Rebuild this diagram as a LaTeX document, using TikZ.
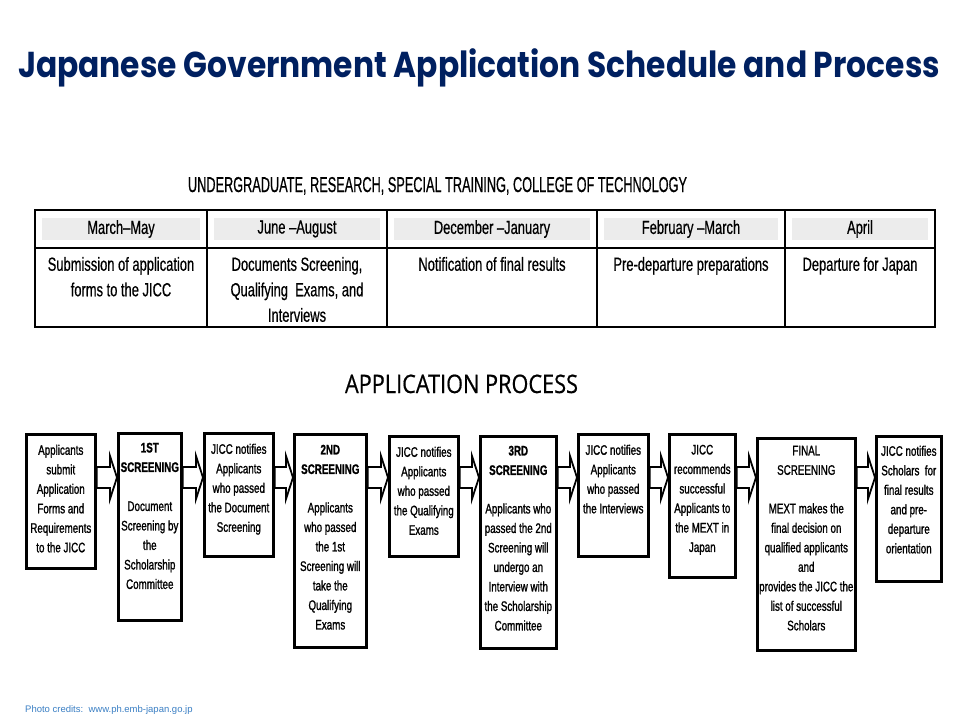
\documentclass[tikz,border=0pt]{standalone}
\usepackage{fontspec}
\usepackage{graphicx}
\usetikzlibrary{calc}
\setmainfont{Liberation Sans}
\newfontfamily\boxfont[FakeStretch=0.71,FakeBold=1.2]{Liberation Sans}
\newfontfamily\tabfont[FakeStretch=0.68,FakeBold=0.5]{Liberation Sans}
\newfontfamily\headfont[FakeBold=0.8]{Liberation Sans}
\newfontfamily\titlefont{Poppins}
\newfontfamily\procfont[FakeBold=0.6]{Open Sans}
\definecolor{navy}{HTML}{002060}
\definecolor{creditblue}{HTML}{3A7FC4}
\definecolor{hdrgray}{HTML}{ECECEC}
\tikzset{
  pbox/.style={draw, line width=2.6pt, inner sep=0pt, fill=white, anchor=north west,
    font=\boxfont\fontsize{13.8}{19.5}\selectfont},
  hcell/.style={draw, line width=2.4pt, inner sep=0pt, outer sep=0pt, anchor=north west,
    minimum height=38pt, font=\tabfont\fontsize{19}{25.5}\selectfont},
  bcell/.style={draw, line width=2.4pt, inner sep=0pt, outer sep=0pt, anchor=north west,
    font=\tabfont\fontsize{19}{25.5}\selectfont},
  flowarr/.style={draw=black, fill=white, line width=1.8pt, line join=miter}
}
% box: name, x, y, w, h, pad, text
\newcommand\pbx[7]{\node[pbox] (#1) at (#2,#3)
  {\parbox[c][\dimexpr#5pt-3pt\relax][t]{\dimexpr#4pt-3pt\relax}{\vspace*{#6pt}\centering #7\par}};}
% body cell: name, x, w, text
\newcommand\bcl[4]{\node[bcell, minimum width=#3pt] (#1) at (#2,248)
  {\parbox[c][79pt][t]{\dimexpr#3pt-8pt\relax}{\vspace*{9pt}\centering #4\par}};}
\newcommand\flow[2]{\draw[flowarr] let \p1=(#1.east), \p2=(#2.west) in
  (\x1,-467pt) -- ({\x2-7pt},-467pt) -- ({\x2-7pt},-456pt) -- (\x2,-477.5pt)
  -- ({\x2-7pt},-499pt) -- ({\x2-7pt},-488pt) -- (\x1,-488pt) -- cycle;}
\begin{document}
\begin{tikzpicture}[x=1pt,y=-1pt]
\useasboundingbox (0,0) rectangle (960,720);
\fill[white] (0,0) rectangle (960,720);
% title
\node[anchor=base, text=navy, inner sep=0pt] (title) at (479,77)
  {\resizebox{922pt}{\height}{\titlefont\bfseries\fontsize{36}{40}\selectfont Japanese Government Application Schedule and Process}};
% table heading
\node[anchor=base, inner sep=0pt] (thead) at (437.5,192)
  {\resizebox{499pt}{\height}{\headfont\fontsize{21.5}{24}\selectfont UNDERGRADUATE, RESEARCH, SPECIAL TRAINING, COLLEGE OF TECHNOLOGY}};
% header gray bands
\foreach \a/\b in {35/207,207/387,387/597,597/785,785/935}
  \fill[hdrgray] (\a+7,218) rectangle (\b-7,240);
% header cells
\node[hcell, minimum width=172pt] (h1) at (35,210) {March–May};
\node[hcell, minimum width=180pt] (h2) at (207,210) {June –August};
\node[hcell, minimum width=210pt] (h3) at (387,210) {December –January};
\node[hcell, minimum width=188pt] (h4) at (597,210) {February –March};
\node[hcell, minimum width=150pt] (h5) at (785,210) {April};
% body cells
\bcl{c1}{35}{172}{Submission of application\\forms to the JICC}
\bcl{c2}{207}{180}{Documents Screening,\\Qualifying\ \ Exams, and\\Interviews}
\bcl{c3}{387}{210}{Notification of final results}
\bcl{c4}{597}{188}{Pre-departure preparations}
\bcl{c5}{785}{150}{Departure for Japan}
% application process heading
\node[anchor=base, inner sep=0pt] (aphead) at (461.5,393)
  {\resizebox{233pt}{\height}{\procfont\fontsize{25.5}{28}\selectfont APPLICATION PROCESS}};
% process boxes
\pbx{b1}{25}{433}{72}{137}{10.5}{Applicants\\submit\\Application\\Forms and\\Requirements\\to the JICC}
\pbx{b2}{117}{432}{66}{190}{9.5}{\textbf{1ST}\\\textbf{SCREENING}\\[19.5pt]Document\\Screening by\\the\\Scholarship\\Committee}
\pbx{b3}{203}{432}{72}{126}{10.5}{JICC notifies\\Applicants\\who passed\\the Document\\Screening}
\pbx{b4}{293}{433}{75}{216}{10.5}{\textbf{2ND}\\\textbf{SCREENING}\\[19pt]Applicants\\who passed\\the 1st\\Screening will\\take the\\Qualifying\\Exams}
\pbx{b5}{388}{435}{72}{123}{10.5}{JICC notifies\\Applicants\\who passed\\the Qualifying\\Exams}
\pbx{b6}{479}{435}{79}{215}{9.5}{\textbf{3RD}\\\textbf{SCREENING}\\[19pt]Applicants who\\passed the 2nd\\Screening will\\undergo an\\Interview with\\the Scholarship\\Committee}
\pbx{b7}{577}{433}{73}{125}{10.5}{JICC notifies\\Applicants\\who passed\\the Interviews}
\pbx{b8}{668}{433}{69}{146}{10.5}{JICC\\recommends\\successful\\Applicants to\\the MEXT in\\Japan}
\pbx{b9}{756}{437}{101}{215}{7.5}{FINAL\\SCREENING\\[19pt]MEXT makes the\\final decision on\\qualified applicants\\and\\provides the JICC the\\list of successful\\Scholars}
\pbx{b10}{875}{435}{68}{148}{9.5}{JICC notifies\\Scholars\ \ for\\final results\\and pre-\\departure\\orientation}
% arrows
\flow{b1}{b2}
\flow{b2}{b3}
\flow{b3}{b4}
\flow{b4}{b5}
\flow{b5}{b6}
\flow{b6}{b7}
\flow{b7}{b8}
\flow{b8}{b9}
\flow{b9}{b10}
% credits
\node[anchor=base west, inner sep=0pt, text=creditblue, font=\fontsize{9.5}{11}\selectfont] (credit) at (25,712)
  {Photo credits:\ \ www.ph.emb-japan.go.jp};
\end{tikzpicture}
\end{document}
